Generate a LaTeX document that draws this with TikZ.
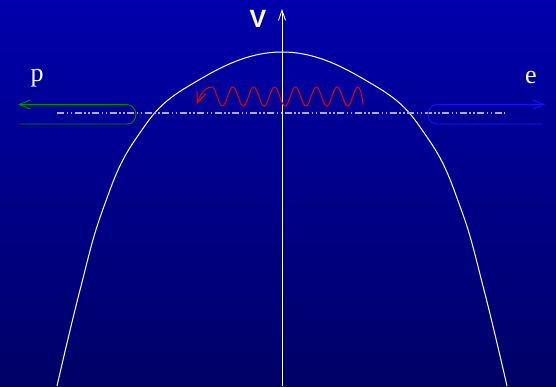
\documentclass[tikz,border=0pt]{standalone}
\usepackage{fontspec}
\setmainfont{Liberation Serif}
\newfontfamily\vfont{Liberation Sans}
\usetikzlibrary{arrows.meta}
\definecolor{bgtop}{RGB}{0,0,172}
\definecolor{bgbot}{RGB}{0,0,102}
\definecolor{dashc}{RGB}{170,170,230}
\definecolor{greenc}{RGB}{0,140,0}
\definecolor{bluec}{RGB}{20,20,255}
\definecolor{redc}{RGB}{235,0,0}
\tikzset{
  barb/.style={line width=0.9pt, -{Straight Barb[length=11pt,width=9pt]}},
  lbl/.style={text=white, inner sep=0pt, anchor=center}
}
\begin{document}
\begin{tikzpicture}[x=1pt,y=-1pt]
\shade[top color=bgtop, bottom color=bgbot] (0,0) rectangle (556,386);
\useasboundingbox (0,0) rectangle (556,386);
% potential curve
\draw[white, line width=1pt] plot[smooth, tension=0.7] coordinates {
 (57,386) (80,290) (103,209) (135,140) (187,87) (282,52)
 (377,87) (429,140) (461,209) (484,290) (507,386)};
% axis
\coordinate (axb) at (282,386);
\coordinate (axt) at (282,9);
\draw[white, line width=0.9pt, -{Straight Barb[length=10pt,width=7pt]}] (axb) -- (axt);
\node[lbl, font=\vfont\bfseries\fontsize{25}{25}\selectfont] (V) at (258,19) {V};
% dash-dot level
\coordinate (dl) at (57,113);
\coordinate (dr) at (505,113);
\draw[dashc, line width=1.2pt, dash pattern=on 7pt off 2.5pt on 1.5pt off 2.5pt on 1.5pt off 2.5pt] (dl) -- (dr);
% wave
\draw[redc, line width=1pt, {Straight Barb[length=11pt,width=9pt]}-]
  (197,104) .. controls (202,90) and (207,87) .. (212,87)
  -- plot[domain=212:358, samples=300] (\x, {96.5 - 9.5*cos(17.26*(\x-212))})
  .. controls (360,87) and (362,95) .. (363,105);
% proton path
\draw[greenc, barb] (20,124) -- (127,124) .. controls (139,124) and (139,104.5) .. (126,104.5) -- (18,104.5);
% electron path
\draw[bluec, barb] (543,124) -- (437,124) .. controls (425,124) and (425,104.5) .. (437,104.5) -- (545,104.5);
% labels
\node[lbl, font=\fontsize{26}{26}\selectfont] (p) at (37,78) {p};
\node[lbl, font=\fontsize{26}{26}\selectfont] (e) at (531,77) {e};
\end{tikzpicture}
\end{document}
